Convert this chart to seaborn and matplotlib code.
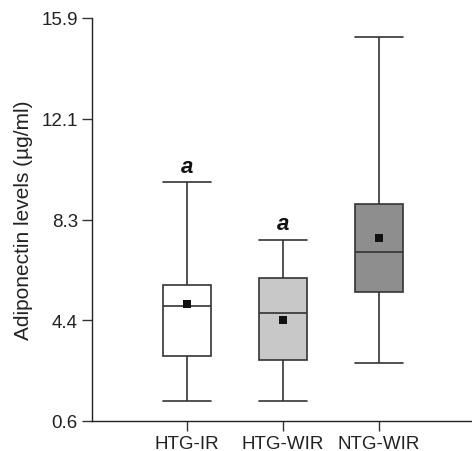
import numpy as np
import pandas as pd
import matplotlib
matplotlib.use("Agg")
import matplotlib.pyplot as plt
import seaborn as sns

# Data (five-number summaries)
groups = ["HTG-IR", "HTG-WIR", "NTG-WIR"]
whisker_low = [1.35, 1.35, 2.80]
q1 = [3.06, 2.93, 5.49]
median = [4.98, 4.70, 7.01]
q3 = [5.76, 6.03, 8.84]
whisker_high = [9.66, 7.48, 15.17]
means = [5.04, 4.45, 7.55]
letters = ["a", "a", ""]
box_colors = ["#ffffff", "#c8c8c8", "#8e8e8e"]
ytick_labels = ["0.6", "4.4", "8.3", "12.1", "15.9"]

rows = []
for g, lo, a, m, b, hi in zip(groups, whisker_low, q1, median, q3, whisker_high):
    for v in (lo, a, m, b, hi):
        rows.append({"group": g, "value": v})
df = pd.DataFrame(rows)

sns.set_theme(style="ticks")
plt.rcParams["font.family"] = ["Liberation Sans", "DejaVu Sans"]

fig = plt.figure(figsize=(4.72, 4.52), dpi=100)
ax = fig.add_axes([91.7 / 472, 30 / 452, 1 - 91.7 / 472, (422 - 19) / 452])

line_c = "#333333"
sns.boxplot(data=df, x="group", y="value", hue="group", order=groups,
            hue_order=groups, palette=box_colors, whis=(0, 100), width=0.5,
            linewidth=1.2, linecolor=line_c, legend=False, ax=ax,
            capwidths=0.5)

mdf = pd.DataFrame({"group": groups, "mean": means})
sns.scatterplot(data=mdf, x="group", y="mean", marker="s", color="#111111",
                s=36, linewidth=0, zorder=5, ax=ax)

for i, (lab, hi) in enumerate(zip(letters, whisker_high)):
    if lab:
        ax.annotate(lab, (i, hi), xytext=(0, 4), textcoords="offset points",
                    ha="center", va="bottom", fontsize=16,
                    fontweight="bold", fontstyle="italic", color="#111111")

ax.set_ylim(0.6, 15.9)
ax.set_yticks(np.linspace(0.6, 15.9, 5))
ax.set_yticklabels(ytick_labels)
ax.set_xlim(-0.99, 2.97)
ax.set_xlabel("")
ax.set_ylabel("Adiponectin levels (µg/ml)", fontsize=15, color="#222222",
              labelpad=6)
ax.tick_params(axis="both", labelsize=13.5, length=7, width=1.0,
               color="#333333", labelcolor="#222222", pad=3)
for s in ["top", "right"]:
    ax.spines[s].set_visible(False)
for s in ["left", "bottom"]:
    ax.spines[s].set_color("#222222")
    ax.spines[s].set_linewidth(1.0)

fig.savefig("out.png", dpi=100)
